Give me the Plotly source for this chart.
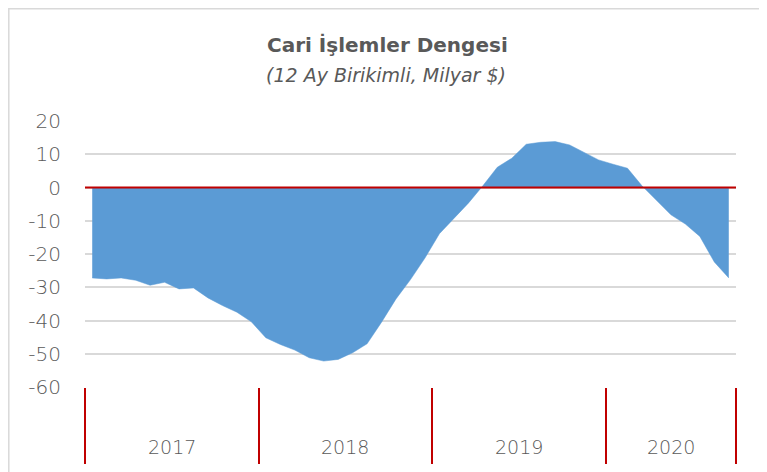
import plotly.graph_objects as go

# Monthly 12-month cumulative current account balance (bn USD), Jan 2017 - Sep 2020
months = [f"{y}-{m:02d}" for y in (2017, 2018, 2019) for m in range(1, 13)] + [f"2020-{m:02d}" for m in range(1, 10)]
values = [
    -27.2, -27.5, -27.2, -27.9, -29.4, -28.5, -30.5, -30.2, -33.2, -35.5, -37.5, -40.4,
    -45.2, -47.2, -48.9, -51.2, -52.2, -51.7, -49.7, -47.0, -40.5, -33.5, -27.7, -21.2,
    -13.9, -9.2, -4.7, 0.5, 6.1, 8.8, 13.0, 13.6, 13.8, 12.8, 10.5, 8.3,
    7.0, 5.8, 0.5, -3.9, -8.2, -11.0, -14.7, -22.4, -27.2,
]
years = ["2017", "2018", "2019", "2020"]
y_ticks = [20, 10, 0, -10, -20, -30, -40, -50, -60]
y_tick_labels = ["20", "10", "0", "-10", "-20", "-30", "-40", "-50", "-60"]

title = "Cari İşlemler Dengesi"
subtitle = "(12 Ay Birikimli, Milyar $)"

idx = list(range(len(months)))
year_of = [m[:4] for m in months]

boundaries = [-0.5]
centers = []
for yr in years:
    ii = [i for i, y in enumerate(year_of) if y == yr]
    boundaries.append(ii[-1] + 0.5)
    centers.append((ii[0] + ii[-1]) / 2)

TXT = "#595959"
FONT = "DejaVu Sans"

# page offset of the figure (body margin) is 8px; plot area in page px: x 85..736, y 121..387
PL, PR, PT, PB = 85, 736, 121, 387
PW, PH = PR - PL, PB - PT
OFF = 8
W, H = 767, 472

def px(x):
    return (x - PL) / PW

def py(y):
    return (PB - y) / PH

fig = go.Figure()
fig.add_trace(go.Scatter(
    x=idx, y=values, mode="lines", fill="tozeroy",
    fillcolor="#5B9BD5", line=dict(color="#5B9BD5", width=0.5),
    text=months, hovertemplate="%{text}: %{y}<extra></extra>",
))

fig.update_layout(
    width=W, height=H,
    margin=dict(l=PL - OFF, r=W - (PR - OFF), t=PT - OFF, b=H - (PB - OFF)),
    paper_bgcolor="white", plot_bgcolor="white",
    showlegend=False,
    font=dict(family=FONT, color=TXT),
    xaxis=dict(
        range=[-0.5, len(months) - 0.5],
        tickmode="array", tickvals=boundaries, ticktext=[""] * len(boundaries),
        ticks="outside", ticklen=76, tickwidth=1.5, tickcolor="#C00000",
        showgrid=False, zeroline=False, showline=False,
    ),
    yaxis=dict(
        range=[-60, 20],
        tickmode="array", tickvals=y_ticks, ticktext=y_tick_labels,
        showgrid=True, gridcolor="#D9D9D9", gridwidth=1.5,
        zeroline=False, showline=False,
        tickfont=dict(size=20, color=TXT, family=FONT, weight=200),
        ticklabelstandoff=23,
    ),
    shapes=[
        dict(type="line", xref="paper", yref="y", x0=0, x1=1, y0=0, y1=0,
             line=dict(color="#C00000", width=2), layer="above"),
        dict(type="rect", xref="paper", yref="paper",
             x0=px(8.8), x1=px(765),
             y0=py(490), y1=py(8.8),
             line=dict(color="#D9D9D9", width=1.5), layer="below"),
    ],
    annotations=[
        dict(text=f"<b>{title}</b>", xref="paper", yref="paper",
             x=px(387), y=py(45), showarrow=False,
             xanchor="center", yanchor="middle",
             font=dict(size=20, color=TXT, family=FONT)),
        dict(text=f"<i>{subtitle}</i>", xref="paper", yref="paper",
             x=px(386), y=py(75), showarrow=False,
             xanchor="center", yanchor="middle",
             font=dict(size=19, color=TXT, family=FONT, weight=200)),
    ] + [
        dict(text=yr, xref="x", yref="paper", x=c, y=py(447),
             showarrow=False, xanchor="center", yanchor="middle",
             font=dict(size=19, color=TXT, family=FONT, weight=200))
        for yr, c in zip(years, centers)
    ],
)

fig.write_html("out.html")
